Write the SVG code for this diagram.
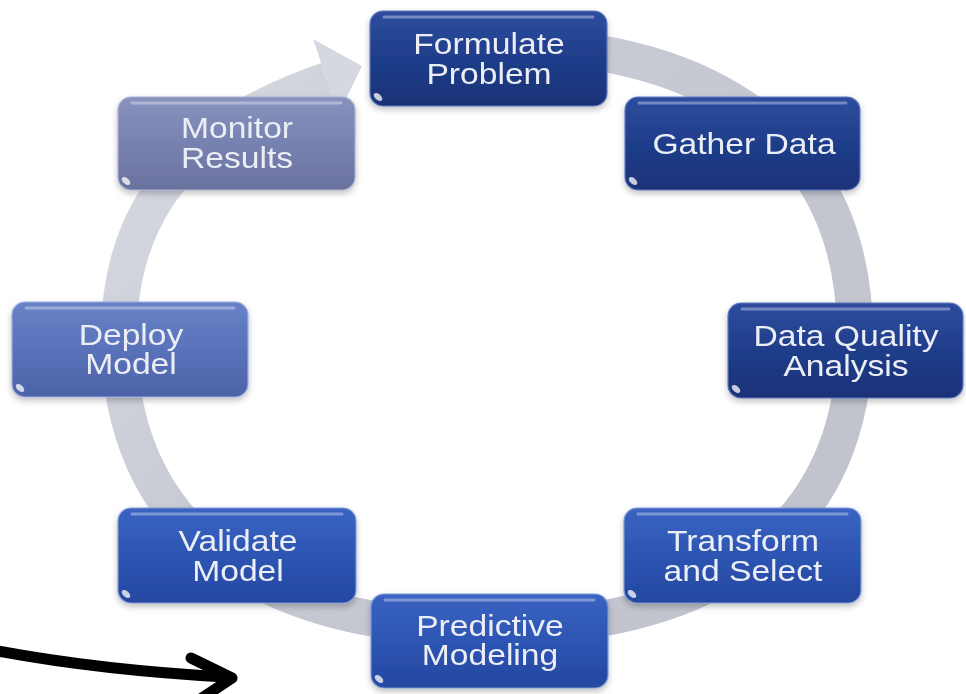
<svg xmlns="http://www.w3.org/2000/svg" width="966" height="694" viewBox="0 0 966 694">
  <style>
    .lbl { font-family: "Liberation Sans", Arial, sans-serif; font-size: 29px; fill: #eceef6; text-anchor: middle; }
    .box { stroke-width: 1.2; }
    .hl { fill: none; stroke: #ffffff; stroke-opacity: 0.35; stroke-width: 3; stroke-linecap: round; }
    .glint { fill: #ffffff; fill-opacity: 0.75; }
    .ring { fill: none; stroke: url(#ringGrad); stroke-width: 36; }
  </style>
  <defs>
    <linearGradient id="navy" x1="0" y1="0" x2="0" y2="1">
      <stop offset="0" stop-color="#2e4d9e"/>
      <stop offset="0.5" stop-color="#1f3d8a"/>
      <stop offset="1" stop-color="#1a3277"/>
    </linearGradient>
    <linearGradient id="blue" x1="0" y1="0" x2="0" y2="1">
      <stop offset="0" stop-color="#3b63c2"/>
      <stop offset="0.5" stop-color="#2d55b3"/>
      <stop offset="1" stop-color="#2547a0"/>
    </linearGradient>
    <linearGradient id="lblue" x1="0" y1="0" x2="0" y2="1">
      <stop offset="0" stop-color="#6882c7"/>
      <stop offset="0.5" stop-color="#5972ba"/>
      <stop offset="1" stop-color="#4d63a8"/>
    </linearGradient>
    <linearGradient id="gray" x1="0" y1="0" x2="0" y2="1">
      <stop offset="0" stop-color="#8992be"/>
      <stop offset="0.5" stop-color="#7882b0"/>
      <stop offset="1" stop-color="#6a729e"/>
    </linearGradient>
    <linearGradient id="ringGrad" gradientUnits="userSpaceOnUse" x1="150" y1="60" x2="800" y2="640">
      <stop offset="0" stop-color="#d8dae2"/>
      <stop offset="0.4" stop-color="#c8cad3"/>
      <stop offset="1" stop-color="#c0c2cc"/>
    </linearGradient>
    <filter id="shadow" x="-10%" y="-10%" width="120%" height="130%">
      <feDropShadow dx="0" dy="3" stdDeviation="3" flood-color="#000000" flood-opacity="0.25"/>
    </filter>
  </defs>

  <rect width="966" height="694" fill="#ffffff"/>

  <g id="connectors">
    <!-- circular cycle arrow -->
    <path class="ring" d="M 487 44 C 723 44, 855 148, 855 336 C 855 524, 723 628, 487 628 C 251 628, 119 524, 119 336 C 119 170, 240 110, 327 80"/>
    <polygon points="362,66 313,39 327,80 338,115" fill="#d6d8e1"/>
    <!-- black hand-drawn arrow -->
    <path d="M -2 651 Q 100 670 226 677" fill="none" stroke="#000000" stroke-width="11" stroke-linecap="round"/>
    <polyline points="191,658 232,678 199,700" fill="none" stroke="#000000" stroke-width="11" stroke-linecap="round" stroke-linejoin="round"/>
  </g>

  <g id="formulate-problem" filter="url(#shadow)">
    <rect class="box" x="370" y="11" width="237" height="95" rx="13" fill="url(#navy)" stroke="#5d78c0"/>
    <line class="hl" x1="384" y1="17" x2="593" y2="17"/>
    <ellipse class="glint" cx="378" cy="97" rx="5" ry="3" transform="rotate(40 378 97)"/>
    <text class="lbl" transform="matrix(1.16 0 0 1 489 54)">Formulate</text>
    <text class="lbl" transform="matrix(1.16 0 0 1 489 84)">Problem</text>
  </g>

  <g id="gather-data" filter="url(#shadow)">
    <rect class="box" x="625" y="97" width="235" height="93" rx="13" fill="url(#navy)" stroke="#5d78c0"/>
    <line class="hl" x1="639" y1="103" x2="846" y2="103"/>
    <ellipse class="glint" cx="633" cy="181" rx="5" ry="3" transform="rotate(40 633 181)"/>
    <text class="lbl" transform="matrix(1.16 0 0 1 744 154)">Gather  Data</text>
  </g>

  <g id="data-quality-analysis" filter="url(#shadow)">
    <rect class="box" x="728" y="303" width="235" height="95" rx="13" fill="url(#navy)" stroke="#5d78c0"/>
    <line class="hl" x1="742" y1="309" x2="949" y2="309"/>
    <ellipse class="glint" cx="736" cy="389" rx="5" ry="3" transform="rotate(40 736 389)"/>
    <text class="lbl" transform="matrix(1.16 0 0 1 846 346)">Data Quality</text>
    <text class="lbl" transform="matrix(1.16 0 0 1 846 376)">Analysis</text>
  </g>

  <g id="transform-and-select" filter="url(#shadow)">
    <rect class="box" x="624" y="508" width="237" height="95" rx="13" fill="url(#blue)" stroke="#7f9ad8"/>
    <line class="hl" x1="638" y1="514" x2="847" y2="514"/>
    <ellipse class="glint" cx="632" cy="594" rx="5" ry="3" transform="rotate(40 632 594)"/>
    <text class="lbl" transform="matrix(1.16 0 0 1 743 551)">Transform</text>
    <text class="lbl" transform="matrix(1.16 0 0 1 743 581)">and Select</text>
  </g>

  <g id="predictive-modeling" filter="url(#shadow)">
    <rect class="box" x="371" y="594" width="237" height="94" rx="13" fill="url(#blue)" stroke="#7f9ad8"/>
    <line class="hl" x1="385" y1="600" x2="594" y2="600"/>
    <ellipse class="glint" cx="379" cy="679" rx="5" ry="3" transform="rotate(40 379 679)"/>
    <text class="lbl" transform="matrix(1.16 0 0 1 490 636)">Predictive</text>
    <text class="lbl" transform="matrix(1.16 0 0 1 490 665)">Modeling</text>
  </g>

  <g id="validate-model" filter="url(#shadow)">
    <rect class="box" x="118" y="508" width="238" height="95" rx="13" fill="url(#blue)" stroke="#7f9ad8"/>
    <line class="hl" x1="132" y1="514" x2="342" y2="514"/>
    <ellipse class="glint" cx="126" cy="594" rx="5" ry="3" transform="rotate(40 126 594)"/>
    <text class="lbl" transform="matrix(1.16 0 0 1 238 551)">Validate</text>
    <text class="lbl" transform="matrix(1.16 0 0 1 238 581)">Model</text>
  </g>

  <g id="deploy-model" filter="url(#shadow)">
    <rect class="box" x="12" y="302" width="236" height="95" rx="13" fill="url(#lblue)" stroke="#9aaee0"/>
    <line class="hl" x1="26" y1="308" x2="234" y2="308"/>
    <ellipse class="glint" cx="20" cy="388" rx="5" ry="3" transform="rotate(40 20 388)"/>
    <text class="lbl" transform="matrix(1.16 0 0 1 131 345)">Deploy</text>
    <text class="lbl" transform="matrix(1.16 0 0 1 131 374)">Model</text>
  </g>

  <g id="monitor-results" filter="url(#shadow)">
    <rect class="box" x="118" y="97" width="237" height="93" rx="13" fill="url(#gray)" stroke="#a9b0d2"/>
    <line class="hl" x1="132" y1="103" x2="341" y2="103"/>
    <ellipse class="glint" cx="126" cy="181" rx="5" ry="3" transform="rotate(40 126 181)"/>
    <text class="lbl" transform="matrix(1.16 0 0 1 237 138)">Monitor</text>
    <text class="lbl" transform="matrix(1.16 0 0 1 237 168)">Results</text>
  </g>
</svg>
